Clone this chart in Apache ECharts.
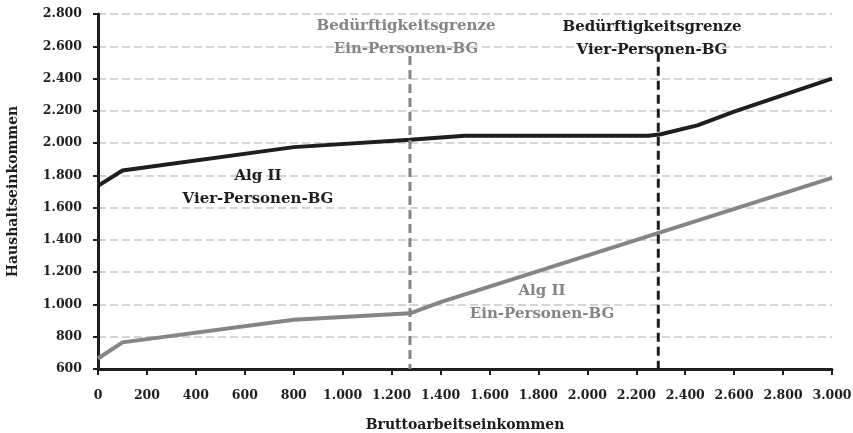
<!DOCTYPE html>
<html>
<head>
<meta charset="utf-8">
<script src="https://cdn.jsdelivr.net/npm/echarts@6/dist/echarts.min.js"></script>
<style>
  html, body { margin: 0; padding: 0; background: #fff; }
  #chart { width: 853px; height: 433px; }
</style>
</head>
<body>
<div id="chart"></div>
<script>
// Gross earnings (x) and resulting household income (y)
const vierX = [0, 100, 800, 1275, 1500, 2250, 2300, 2450, 2600, 3000];
const vierY = [1735, 1830, 1975, 2020, 2045, 2045, 2055, 2110, 2195, 2400];

const einX = [0, 100, 800, 1275, 1400, 3000];
const einY = [665, 765, 905, 945, 1015, 1785];

// Need thresholds (Bedürftigkeitsgrenze)
const grenzeEinX = 1275;
const grenzeVierX = 2290;
const grenzeEinTop = 2540;
const grenzeVierTop = 2560;

const xMin = 0, xMax = 3000, xStep = 200;
const yMin = 600, yMax = 2800, yStep = 200;

const FONT = 'DejaVu Serif';
const GREY = '#858585';
const DARK = '#1e1e1e';

function deFmt(v) {
  return String(v).replace(/\B(?=(\d{3})+(?!\d))/g, '.');
}

const zip = (xs, ys) => xs.map((x, i) => [x, ys[i]]);

const chart = echarts.init(document.getElementById('chart'), null, { renderer: 'canvas' });

const labelStyle = (color) => ({
  fontFamily: FONT, fontWeight: 'bold', fontSize: 15, fill: color,
  align: 'center', verticalAlign: 'middle', lineHeight: 23
});

chart.setOption({
  animation: false,
  backgroundColor: '#fff',
  grid: { left: 98, right: 21, top: 14, bottom: 64, containLabel: false, outerBoundsMode: 'none' },
  xAxis: {
    type: 'value', min: xMin, max: xMax, interval: xStep,
    name: 'Bruttoarbeitseinkommen', nameLocation: 'middle', nameGap: 49,
    nameTextStyle: { fontFamily: FONT, fontWeight: 'bold', fontSize: 14, color: DARK },
    axisLine: { onZero: false, lineStyle: { color: DARK, width: 3 } },
    axisTick: { show: true, inside: false, length: 6, lineStyle: { color: DARK, width: 2 } },
    axisLabel: { formatter: deFmt, margin: 20, fontFamily: FONT, fontWeight: 'bold', fontSize: 12.5, color: DARK },
    splitLine: { show: false }
  },
  yAxis: {
    type: 'value', min: yMin, max: yMax, interval: yStep,
    name: 'Haushaltseinkommen', nameLocation: 'middle', nameGap: 78, nameRotate: 90,
    nameTextStyle: { fontFamily: FONT, fontWeight: 'bold', fontSize: 14, color: DARK },
    axisLine: { show: true, lineStyle: { color: DARK, width: 3 } },
    axisTick: { show: true, inside: false, length: 5, lineStyle: { color: DARK, width: 2 } },
    axisLabel: { formatter: deFmt, margin: 16, fontFamily: FONT, fontWeight: 'bold', fontSize: 12.5, color: DARK },
    splitLine: { show: true, lineStyle: { color: '#c8c8c8', width: 1.5, type: [8, 4] } }
  },
  series: [
    {
      name: 'Ein-Personen-BG', type: 'line', data: zip(einX, einY),
      showSymbol: false, lineStyle: { color: GREY, width: 4 }, z: 3
    },
    {
      name: 'Vier-Personen-BG', type: 'line', data: zip(vierX, vierY),
      showSymbol: false, lineStyle: { color: DARK, width: 4 }, z: 4
    },
    {
      name: 'Grenze Ein', type: 'line',
      data: [[grenzeEinX, grenzeEinTop], [grenzeEinX, yMin]],
      showSymbol: false, lineStyle: { color: GREY, width: 3, type: [9, 5] }, z: 5
    },
    {
      name: 'Grenze Vier', type: 'line',
      data: [[grenzeVierX, grenzeVierTop], [grenzeVierX, yMin]],
      showSymbol: false, lineStyle: { color: DARK, width: 3, type: [9, 5] }, z: 5
    }
  ],
  graphic: [
    { type: 'text', x: 406, y: 38, z: 10, style: Object.assign({ text: 'Bedürftigkeitsgrenze\nEin-Personen-BG' }, labelStyle(GREY)) },
    { type: 'text', x: 652, y: 39, z: 10, style: Object.assign({ text: 'Bedürftigkeitsgrenze\nVier-Personen-BG' }, labelStyle(DARK)) },
    { type: 'text', x: 258, y: 188, z: 10, style: Object.assign({ text: 'Alg II\nVier-Personen-BG' }, labelStyle(DARK)) },
    { type: 'text', x: 542, y: 303, z: 10, style: Object.assign({ text: 'Alg II\nEin-Personen-BG' }, labelStyle(GREY)) }
  ]
});
</script>
</body>
</html>
